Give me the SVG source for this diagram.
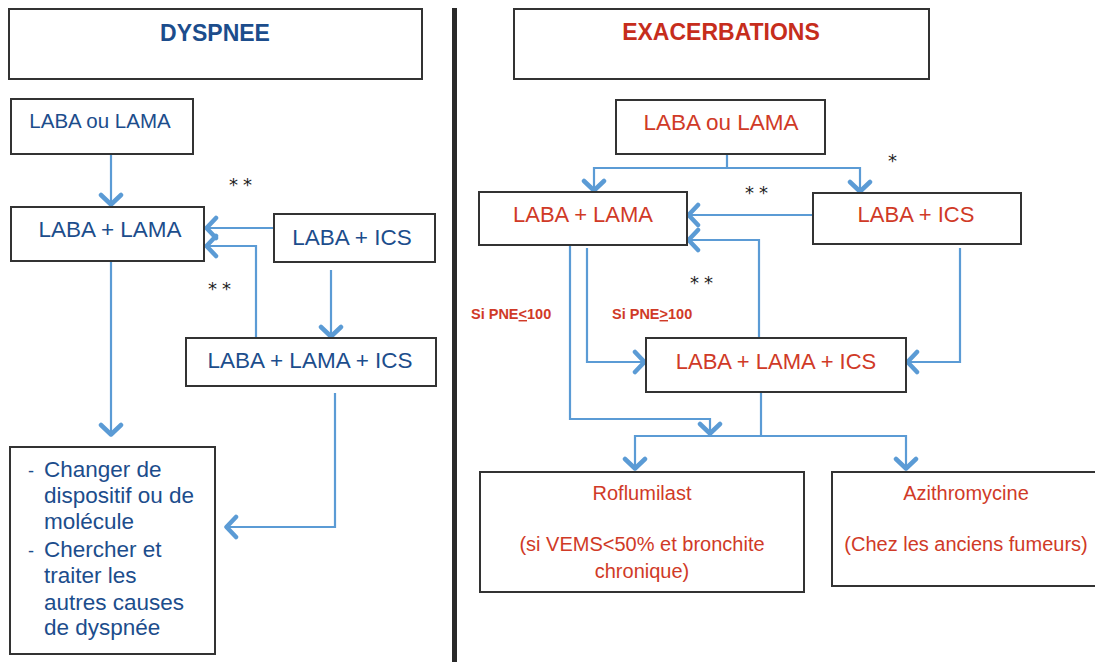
<svg xmlns="http://www.w3.org/2000/svg" width="1095" height="662" viewBox="0 0 1095 662">
<style>
.box{fill:#fff;stroke:#333;stroke-width:2}
.b{font-family:"Liberation Sans",Arial,sans-serif;fill:#1c4d8c}
.r{font-family:"Liberation Sans",Arial,sans-serif;fill:#d03a27}
.c{text-anchor:middle}
.t{font-weight:bold;font-size:23px}
.ast{font-family:"DejaVu Sans",sans-serif;font-size:18px;letter-spacing:5px;fill:#222}
.con{fill:none;stroke:#5b9bd5;stroke-width:2.2;marker-end:url(#ah)}
</style>
<defs>
<marker id="ah" viewBox="-14 -13 16 26" markerWidth="16" markerHeight="26" refX="0" refY="0" orient="auto" markerUnits="userSpaceOnUse">
<path d="M-11,-10 L-1.5,0 L-11,10" fill="none" stroke="#5b9bd5" stroke-width="4.5" stroke-linecap="round" stroke-linejoin="round"/>
</marker>
</defs>
<rect width="1095" height="662" fill="#fff"/>
<rect x="452" y="8" width="5" height="654" fill="#2a2a2a"/>

<g id="connectors">
<path class="con" d="M111,154 V206"/>
<path class="con" d="M274,228 H205"/>
<path class="con" d="M256,338 V246 H205"/>
<path class="con" d="M331,270 V338"/>
<path class="con" d="M111,261 V436"/>
<path class="con" d="M335,393 V527 H225"/>

<path class="con" d="M727,154 V168 H594 V192"/>
<path class="con" d="M727,168 H860 V193"/>
<path class="con" d="M813,215 H687"/>
<path class="con" d="M759,338 V240 H687"/>
<path class="con" d="M570,245 V419 H710 V435"/>
<path class="con" d="M587,248 V362 H646"/>
<path class="con" d="M960,248 V362 H906"/>
<path class="con" d="M761,392 V436 H635 V470"/>
<path class="con" d="M761,436 H906 V470"/>
</g>

<g id="dyspnee-title">
<rect class="box" x="9" y="9" width="413" height="70"/>
<text class="b c t" x="215" y="41">DYSPNEE</text>
</g>
<g id="l-laba-ou-lama">
<rect class="box" x="11" y="99" width="182" height="55"/>
<text class="b c" x="100" y="128" font-size="20.5">LABA ou LAMA</text>
</g>
<g id="l-laba-lama">
<rect class="box" x="11" y="207" width="193" height="54"/>
<text class="b c" x="110" y="237" font-size="22.5">LABA + LAMA</text>
</g>
<g id="l-laba-ics">
<rect class="box" x="274" y="214" width="161" height="48"/>
<text class="b c" x="352" y="245" font-size="22.5">LABA + ICS</text>
</g>
<g id="l-laba-lama-ics">
<rect class="box" x="186" y="338" width="250" height="48"/>
<text class="b c" x="310" y="368" font-size="22.5">LABA + LAMA + ICS</text>
</g>
<g id="l-final">
<rect class="box" x="10" y="447" width="205" height="207"/>
<text class="b" font-size="22.5">
<tspan x="28" y="477" font-size="18">-</tspan><tspan x="44" y="477">Changer de</tspan>
<tspan x="44" y="503">dispositif ou de</tspan>
<tspan x="44" y="529">molécule</tspan>
<tspan x="28" y="557" font-size="18">-</tspan><tspan x="44" y="557">Chercher et</tspan>
<tspan x="44" y="583">traiter les</tspan>
<tspan x="44" y="610">autres causes</tspan>
<tspan x="44" y="635">de dyspnée</tspan>
</text>
</g>

<g id="exacerbations-title">
<rect class="box" x="514" y="9" width="415" height="70"/>
<text class="r c t" x="721" y="40" style="fill:#c62d1c">EXACERBATIONS</text>
</g>
<g id="r-laba-ou-lama">
<rect class="box" x="616" y="100" width="209" height="54"/>
<text class="r c" x="721" y="130" font-size="22.5">LABA ou LAMA</text>
</g>
<g id="r-laba-lama">
<rect class="box" x="479" y="192" width="208" height="53"/>
<text class="r c" x="583" y="222" font-size="22">LABA + LAMA</text>
</g>
<g id="r-laba-ics">
<rect class="box" x="813" y="193" width="208" height="51"/>
<text class="r c" x="916" y="222" font-size="22">LABA + ICS</text>
</g>
<g id="r-laba-lama-ics">
<rect class="box" x="646" y="338" width="260" height="54"/>
<text class="r c" x="776" y="369" font-size="22">LABA + LAMA + ICS</text>
</g>
<g id="r-roflumilast">
<rect class="box" x="480" y="472" width="324" height="120"/>
<text class="r c" x="642" y="500" font-size="20">Roflumilast</text>
<text class="r c" x="642" y="551" font-size="20">(si VEMS&lt;50% et bronchite</text>
<text class="r c" x="642" y="578" font-size="20">chronique)</text>
</g>
<g id="r-azithromycine">
<rect class="box" x="832" y="472" width="270" height="114"/>
<text class="r c" x="966" y="500" font-size="20">Azithromycine</text>
<text class="r c" x="966" y="551" font-size="20">(Chez les anciens fumeurs)</text>
</g>

<g id="labels">
<text class="r" x="471" y="319" font-size="14.5" font-weight="bold">Si PNE<tspan text-decoration="underline">&lt;</tspan>100</text>
<text class="r" x="612" y="319" font-size="14.5" font-weight="bold">Si PNE<tspan text-decoration="underline">&gt;</tspan>100</text>
<text class="ast" x="229" y="191">**</text>
<text class="ast" x="208" y="295">**</text>
<text class="ast" x="745" y="199">**</text>
<text class="ast" x="690" y="289">**</text>
<text class="ast" x="888" y="167">*</text>
</g>
</svg>
